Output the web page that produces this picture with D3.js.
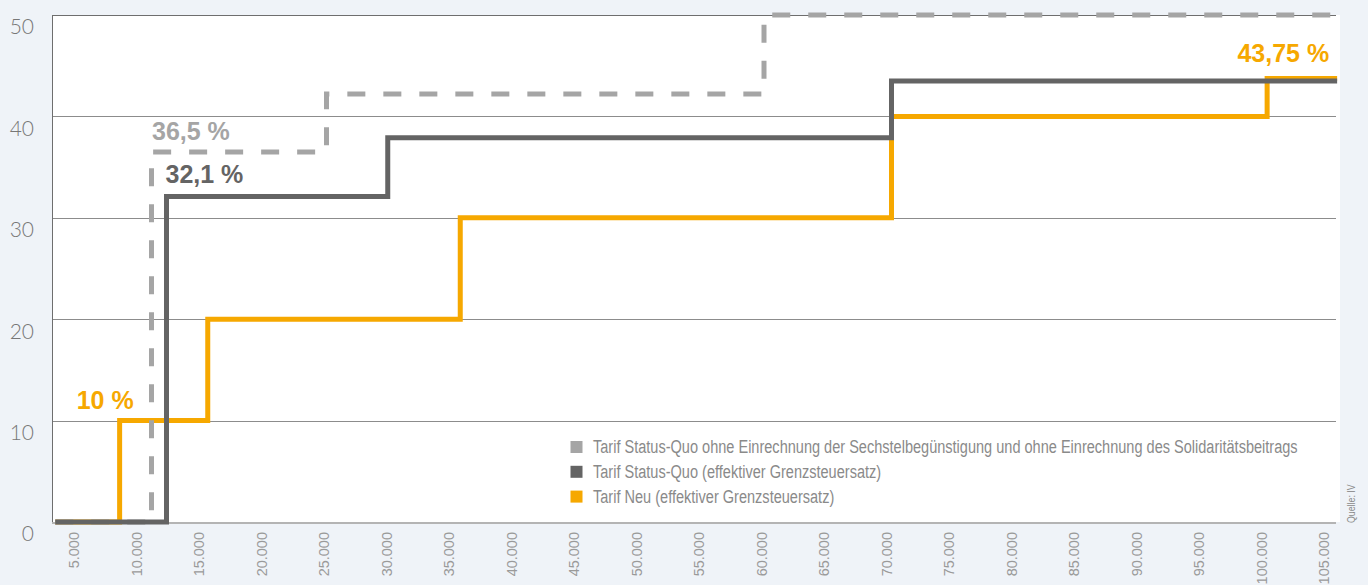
<!DOCTYPE html>
<html lang="de">
<head>
<meta charset="utf-8">
<script src="https://cdn.jsdelivr.net/npm/d3@7"></script>
<style>
  html, body { margin: 0; padding: 0; background: #eff3f8; }
  svg { display: block; }
</style>
</head>
<body>
<svg id="chart" width="1368" height="585"></svg>
<script>
// Einkommensstufen (Euro) und Grenzsteuersätze (%) – jeweils Punkte einer Treppenfunktion
const incomeTicks = [5000, 10000, 15000, 20000, 25000, 30000, 35000, 40000, 45000, 50000,
  55000, 60000, 65000, 70000, 75000, 80000, 85000, 90000, 95000, 100000, 105000];
const rateTicks = [0, 10, 20, 30, 40, 50];

const quoOhneIncome = [3300, 11000, 25000, 60000, 105850];
const quoOhneRate   = [0, 36.5, 42.2, 50, 50];

const quoEffIncome  = [3300, 12200, 29900, 70200, 105850];
const quoEffRate    = [0, 32.1, 37.9, 43.5, 43.5];

const neuIncome     = [3300, 8450, 15500, 35700, 70200, 100250, 105850];
const neuRate       = [0, 10, 20, 30, 40, 43.75, 43.75];

const legendLabels = [
  "Tarif Status-Quo ohne Einrechnung der Sechstelbegünstigung und ohne Einrechnung des Solidaritätsbeitrags",
  "Tarif Status-Quo (effektiver Grenzsteuersatz)",
  "Tarif Neu (effektiver Grenzsteuersatz)"
];
const seriesColors = ["#a5a5a5", "#646464", "#f6a800"];

// Beschriftete Sätze: [Reihe, Einkommen, Satz]
const callouts = [
  [0, 11000, 36.5],
  [1, 12200, 32.1],
  [2, 8450, 10],
  [2, 100250, 43.75]
];

const svg = d3.select("#chart");
const sans = "'Liberation Sans', Arial, sans-serif";
const condense = 0.8; // schmale Schriftwirkung

const plot = { left: 52, right: 1340, top: 15, bottom: 522 };
const x = d3.scaleLinear().domain([0, 105000]).range([14, 1326.5]);
const y = d3.scaleLinear().domain([0, 50]).range([plot.bottom, plot.top]);

// Zeichenfläche
svg.append("rect")
  .attr("x", plot.left).attr("y", plot.top)
  .attr("width", plot.right - plot.left).attr("height", plot.bottom - plot.top)
  .attr("fill", "#ffffff");

// Horizontale Rasterlinien
const yAxis = d3.axisLeft(y).tickValues(rateTicks)
  .tickSize(-(1336 - plot.left)).tickPadding(0).tickFormat(d3.format("d"));
const gy = svg.append("g").attr("transform", `translate(${plot.left},0)`).call(yAxis);
gy.select(".domain").remove();
gy.selectAll(".tick line")
  .attr("stroke", d => d === 0 ? "#b4b4b4" : (d === 50 ? "#6e6e6e" : "#8c8c8c"))
  .attr("stroke-width", d => d === 0 ? 2 : 1)
  .attr("shape-rendering", "crispEdges");
gy.selectAll(".tick text")
  .attr("x", -18).attr("dy", "0.9em")
  .attr("fill", "#777")
  .style("font-family", "Lato, 'Liberation Sans', sans-serif")
  .style("font-weight", 300)
  .style("font-size", "21px");

// Linke Begrenzung
svg.append("line")
  .attr("x1", plot.left).attr("x2", plot.left)
  .attr("y1", plot.top).attr("y2", plot.bottom)
  .attr("stroke", "#6e6e6e").attr("stroke-width", 1)
  .attr("shape-rendering", "crispEdges");

// Einkommensachse mit gedrehten Beschriftungen
const xAxis = d3.axisBottom(x).tickValues(incomeTicks).tickSize(0)
  .tickFormat(d => d3.format(",")(d).replace(/,/g, "."));
const gx = svg.append("g").attr("transform", `translate(0,${plot.bottom})`).call(xAxis);
gx.select(".domain").remove();
gx.selectAll(".tick text")
  .attr("transform", "rotate(-90)")
  .attr("text-anchor", "end")
  .attr("x", -10).attr("y", -3).attr("dy", "0.35em")
  .attr("fill", "#9a9a9a")
  .style("font-family", sans)
  .style("font-size", "14.5px");

// Treppenlinien
const line = d3.line()
  .x(d => x(d[0])).y(d => y(d[1]))
  .curve(d3.curveStepAfter);

const series = [
  d3.zip(quoOhneIncome, quoOhneRate),
  d3.zip(quoEffIncome, quoEffRate),
  d3.zip(neuIncome, neuRate)
];

const drawOrder = [2, 0, 1];
drawOrder.forEach(i => {
  svg.append("path")
    .datum(series[i])
    .attr("d", line)
    .attr("fill", "none")
    .attr("stroke", seriesColors[i])
    .attr("stroke-width", 5)
    .attr("stroke-linejoin", "miter")
    .attr("stroke-linecap", "butt")
    .attr("stroke-dasharray", i === 0 ? "18,18" : null);
});

// Werte an den Stufen
const fmtPct = v => String(v).replace(".", ",") + " %";
const calloutStyle = [
  { anchor: "start", dx: 0.5, dy: -11.5 },
  { anchor: "start", dx: -1, dy: -14 },
  { anchor: "end", dx: 14, dy: -12 },
  { anchor: "end", dx: 62, dy: -16 }
];
callouts.forEach((c, k) => {
  const s = calloutStyle[k];
  svg.append("text")
    .attr("x", x(c[1]) + s.dx)
    .attr("y", y(c[2]) + s.dy)
    .attr("text-anchor", s.anchor)
    .attr("fill", seriesColors[c[0]])
    .style("font-family", sans)
    .style("font-weight", 700)
    .style("font-size", "25px")
    .text(fmtPct(c[2]));
});

// Legende
const legend = svg.append("g").attr("transform", "translate(570,447)");
legendLabels.forEach((label, i) => {
  const row = legend.append("g").attr("transform", `translate(0,${i * 24.8})`);
  row.append("rect")
    .attr("x", 0.5).attr("y", -6).attr("width", 12).attr("height", 12)
    .attr("fill", seriesColors[i]);
  row.append("text")
    .attr("transform", `translate(23,0) scale(${condense},1)`)
    .attr("dy", "0.35em")
    .attr("fill", "#8a8a8a")
    .style("font-family", sans)
    .style("font-size", "16px")
    .text(label);
});
// Schriftgröße so wählen, dass die längste Zeile bis 1297 px reicht
const longest = legend.select("text").node().getComputedTextLength();
const legendSize = 16 * (1297 - 593) / (longest * condense);
legend.selectAll("text").style("font-size", legendSize + "px");

// Quellenangabe
svg.append("text")
  .attr("transform", `translate(1355,523) rotate(-90) scale(${condense},1)`)
  .attr("text-anchor", "start")
  .attr("fill", "#8a8a8a")
  .style("font-family", sans)
  .style("font-size", "11px")
  .text("Quelle: IV");
</script>
</body>
</html>
